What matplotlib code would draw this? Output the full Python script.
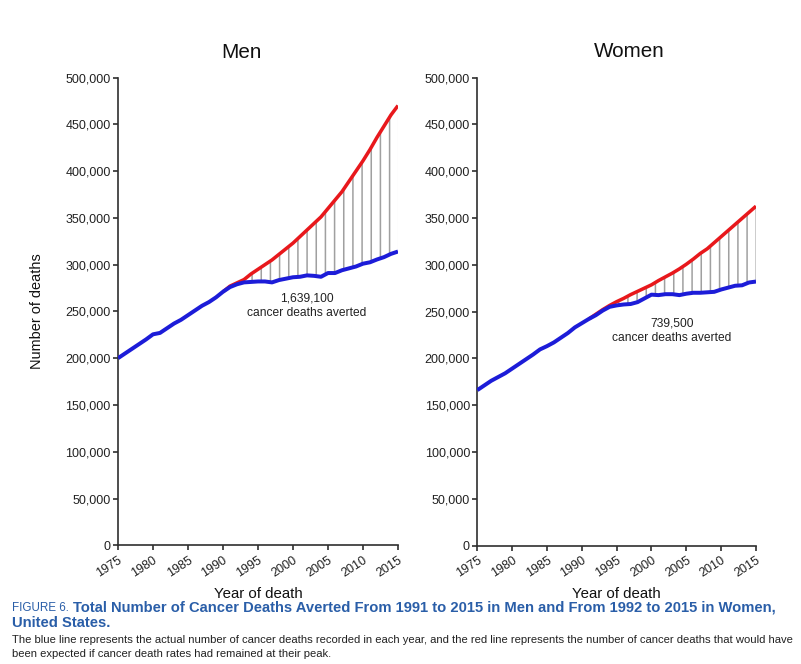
import numpy as np
import matplotlib
matplotlib.use('Agg')
import matplotlib.pyplot as plt

plt.rcParams['font.family'] = ['Liberation Sans', 'DejaVu Sans']
plt.rcParams['hatch.color'] = '#a0a0a0'
plt.rcParams['hatch.linewidth'] = 1.0

# ---------------- datos ----------------
years = list(range(1975, 2016))

men_actual = [200000, 205000, 210000, 215000, 220000, 225500, 227000, 232000, 237000, 241000,
              246000, 251000, 256000, 260000, 265000, 271000, 276000, 279000, 281000, 281500,
              282000, 282000, 281000, 283500, 285000, 286500, 287000, 288500, 288000, 287000,
              291000, 291000, 294000, 296000, 298000, 301000, 302500, 305500, 308000, 311500,
              314000]
men_exp_years = list(range(1990, 2016))
men_expected = [271000, 277000, 280500, 284000, 290000, 295000, 300000, 305000, 311000, 317000,
                323000, 330000, 337000, 344000, 351000, 360000, 369000, 378000, 389000, 400000,
                411000, 423000, 436000, 448000, 460000, 470000]

women_actual = [166000, 171000, 176000, 180000, 184000, 189000, 194000, 199000, 204000, 209500,
                213000, 217000, 222000, 227000, 233000, 237500, 242000, 246000, 251000, 255000,
                256500, 257500, 258000, 260000, 264000, 268000, 267500, 268500, 268500, 267500,
                269000, 270000, 270000, 270500, 271000, 273500, 275500, 277500, 278000, 281000,
                282000]
women_exp_years = list(range(1991, 2016))
women_expected = [242000, 247000, 252000, 256500, 260500, 264000, 268000, 271500, 275000, 278500,
                  283000, 287000, 291000, 295500, 300500, 306000, 312000, 317000, 323500, 330000,
                  336500, 343000, 349500, 356000, 362500]

averted_men = '1,639,100\ncancer deaths averted'
averted_women = '739,500\ncancer deaths averted'

yticks = list(range(0, 500001, 50000))
xticks = list(range(1975, 2016, 5))

azul = '#1c1cd8'
rojo = '#e8181c'
azul_txt = '#2a5ea8'

# ---------------- figura ----------------
DPI = 110
fig = plt.figure(figsize=(801 / DPI, 664 / DPI), dpi=DPI)
W, H = 801.0, 664.0
renderer = fig.canvas.get_renderer()

def px_axes(x0, x1, ytop, ybot):
    return fig.add_axes([x0 / W, 1 - ybot / H, (x1 - x0) / W, (ybot - ytop) / H])

ax_m = px_axes(118, 398, 77.5, 545.3)
ax_w = px_axes(477.3, 756, 77.5, 545.5)

paneles = [
    (ax_m, men_actual, men_exp_years, men_expected, 'Men', 0.442, averted_men, (2002, 256000)),
    (ax_w, women_actual, women_exp_years, women_expected, 'Women', 0.544, averted_women, (2002.9, 229500)),
]

for ax, actual, eyears, expected, titulo, xt, texto, pos in paneles:
    actual_arr = np.array(actual)
    yrs = np.array(years)
    sub = actual_arr[(yrs >= eyears[0])]
    # lineas verticales entre curvas
    ax.fill_between(eyears, sub, expected, facecolor='none', edgecolor='#a0a0a0',
                    hatch='||', linewidth=0)
    ax.plot(eyears, expected, color=rojo, lw=2.3, solid_capstyle='butt', zorder=3)
    ax.plot(years, actual, color=azul, lw=2.6, solid_capstyle='butt', zorder=4)

    ax.set_xlim(1975, 2015)
    ax.set_ylim(0, 500000)
    ax.set_yticks(yticks)
    ax.set_yticklabels(['{:,}'.format(v) for v in yticks])
    ax.set_xticks(xticks)
    ax.set_xticklabels([str(v) for v in xticks], rotation=33, ha='right',
                       va='top', rotation_mode='anchor')
    for s in ['top', 'right']:
        ax.spines[s].set_visible(False)
    for s in ['left', 'bottom']:
        ax.spines[s].set_color('#303030')
        ax.spines[s].set_linewidth(1.1)
    ax.tick_params(axis='both', direction='out', length=3.3, width=1.1,
                   color='#303030', labelsize=8.2, labelcolor='#222222', pad=1.5)
    ax.tick_params(axis='x', pad=2.5)
    ax.text(xt, 1.0545, titulo, transform=ax.transAxes, ha='center', va='center',
            fontsize=13.5, color='#111111')
    ax.text(pos[0], pos[1], texto, ha='center', va='center', fontsize=7.9,
            color='#222222', linespacing=1.2)
    ax.set_xlabel('Year of death', fontsize=9.8, color='#111111', labelpad=5)

ax_m.set_ylabel('Number of deaths', fontsize=9.5, color='#111111', labelpad=14)

# ---------------- leyenda de la figura ----------------
def texto_ajustado(x0, x1, y, s, size, **kw):
    # texto que ocupa de x0 a x1 (pixeles)
    t = fig.text(x0 / W, 1 - y / H, s, fontsize=size, va='center', ha='left', **kw)
    ancho = t.get_window_extent(renderer).width
    t.set_fontsize(size * (x1 - x0) / ancho)
    return t

t0 = fig.text(12 / W, 1 - 608 / H, 'FIGURE 6.', fontsize=7.6, color=azul_txt,
              va='center', ha='left')
x_fin = 12 + t0.get_window_extent(renderer).width + 4
t1 = texto_ajustado(x_fin, 776, 608,
                    'Total Number of Cancer Deaths Averted From 1991 to 2015 in Men and From 1992 to 2015 in Women,',
                    8.0, color=azul_txt, weight='bold')
fig.text(12 / W, 1 - 623 / H, 'United States.', fontsize=t1.get_fontsize(), color=azul_txt,
         weight='bold', va='center', ha='left')
t3 = texto_ajustado(12, 784, 640,
                    'The blue line represents the actual number of cancer deaths recorded in each year, and the red line represents the number of cancer deaths that would have',
                    6.5, color='#222222')
fig.text(12 / W, 1 - 654 / H,
         'been expected if cancer death rates had remained at their peak.',
         fontsize=t3.get_fontsize(), color='#222222', va='center', ha='left')

fig.savefig('out.png', dpi=DPI)
